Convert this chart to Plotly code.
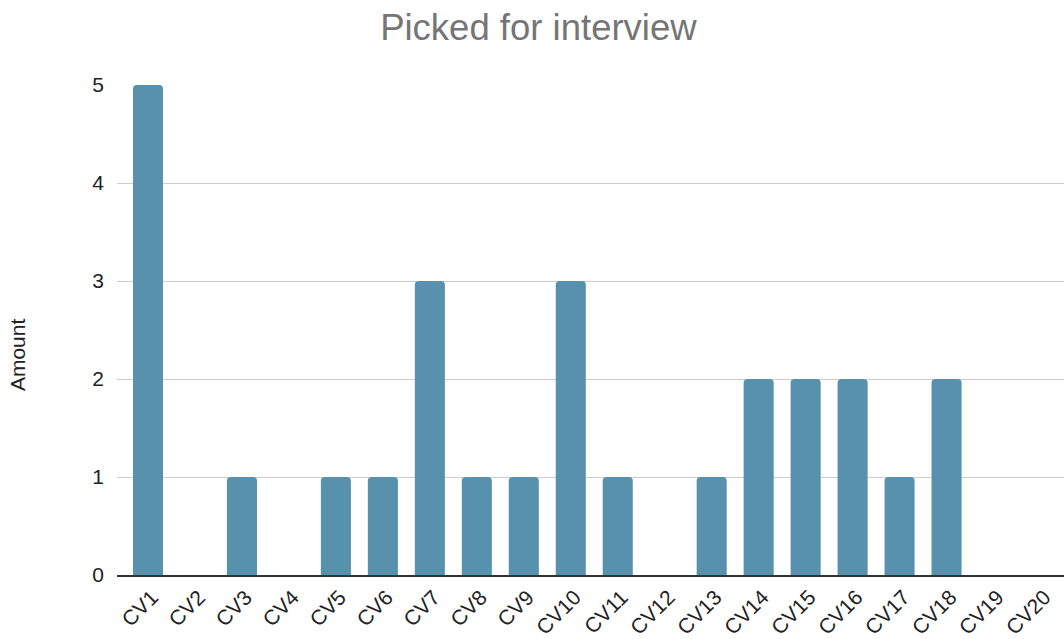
import plotly.graph_objects as go

categories = [f"CV{i}" for i in range(1, 21)]
amounts = [5, 0, 1, 0, 1, 1, 3, 1, 1, 3, 1, 0, 1, 2, 2, 2, 1, 2, 0, 0]
y_ticks = [0, 1, 2, 3, 4, 5]

FONT = "Arial"

fig = go.Figure(
    go.Bar(
        x=categories,
        y=amounts,
        marker=dict(color="#5891ae", line=dict(width=0)),
        hoverinfo="x+y",
    )
)

fig.update_layout(
    width=1064,
    height=639,
    margin=dict(l=117, r=0, t=85, b=64),
    paper_bgcolor="white",
    plot_bgcolor="white",
    bargap=0.36,
    barcornerradius=4,
    font=dict(family=FONT, color="#222222"),
    title=dict(
        text="Picked for interview",
        x=0.506,
        xanchor="center",
        y=0.958,
        yanchor="middle",
        font=dict(family=FONT, size=36.5, color="#757575"),
    ),
    showlegend=False,
    annotations=[
        dict(
            text="Amount",
            textangle=-90,
            xref="paper",
            yref="paper",
            x=-0.105,
            y=0.45,
            xanchor="center",
            yanchor="middle",
            showarrow=False,
            font=dict(family=FONT, size=21, color="#222222"),
        )
    ],
)

fig.update_xaxes(
    type="category",
    range=[-0.66, 19.5],
    tickangle=-45,
    tickfont=dict(family=FONT, size=21, color="#222222"),
    ticklabelshift=4,
    showgrid=False,
    showline=True,
    linecolor="#333333",
    linewidth=1.5,
    ticks="",
    automargin=False,
)

fig.update_yaxes(
    range=[0, 5],
    tickvals=y_ticks,
    tickfont=dict(family=FONT, size=21, color="#222222"),
    showgrid=True,
    gridcolor="#cccccc",
    gridwidth=1.2,
    zeroline=False,
    ticks="",
    ticklabelstandoff=12,
    automargin=False,
)

fig.write_html("out.html")
